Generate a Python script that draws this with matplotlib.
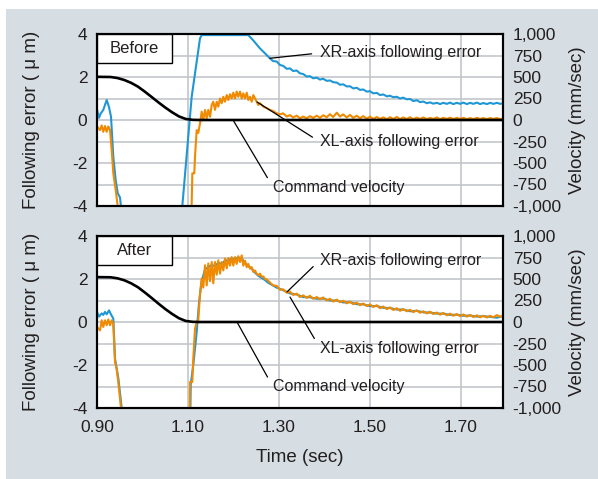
import matplotlib
matplotlib.use('Agg')
import matplotlib.pyplot as plt
from matplotlib.patches import Rectangle

plt.rcParams['font.family'] = ['Liberation Sans', 'DejaVu Sans']
plt.rcParams['axes.unicode_minus'] = False

BLUE = '#1f97d6'
ORANGE = '#f08a00'
PANEL = '#d6dee3'
GRID = '#c2c6cb'
TXT = '#231f20'

# shared sample times for the slow tails (sec)
t_tail = [1.280, 1.287, 1.295, 1.302, 1.309, 1.317, 1.324, 1.331, 1.339, 1.346,
          1.353, 1.361, 1.368, 1.375, 1.383, 1.390, 1.397, 1.405, 1.412, 1.419,
          1.427, 1.434, 1.441, 1.449, 1.456, 1.463, 1.471, 1.478, 1.485, 1.493,
          1.500, 1.507, 1.515, 1.522, 1.529, 1.537, 1.544, 1.551, 1.559, 1.566,
          1.573, 1.581, 1.588, 1.595, 1.603, 1.610, 1.617, 1.625, 1.632, 1.639,
          1.647, 1.654, 1.661, 1.669, 1.676, 1.683, 1.691, 1.698, 1.705, 1.713,
          1.720, 1.727, 1.735, 1.742, 1.749, 1.757, 1.764, 1.771, 1.779, 1.786,
          1.793]

# command velocity (mm/sec)
t_cmd = [0.900, 0.930, 0.945, 0.960, 0.975, 0.990, 1.005, 1.020, 1.035, 1.050,
         1.065, 1.080, 1.095, 1.110, 1.125, 1.800]
cmd_before = [502, 500, 488, 465, 432, 388, 330, 268, 205, 145, 90, 42, 12, 2, 0, 0]
cmd_after = [522, 520, 508, 485, 450, 404, 344, 280, 214, 151, 94, 44, 12, 2, 0, 0]

# ---- Before: XR-axis (blue) ----
xr_before_t = [0.9000, 0.9044, 0.9080, 0.9138, 0.9213, 0.9264, 0.9308, 0.9358, 0.9411,
               0.9455, 0.9505, 0.9527, 0.9540, 1.0794, 1.1081, 1.1264, 1.1301, 1.2325,
               1.2435, 1.2582, 1.2692] + t_tail
xr_before_v = [0.50, 0.10, 0.30, 0.47, 0.93, 0.60, 0.15, -1.70, -2.80,
               -3.40, -3.60, -4.00, -6.00, -6.00, 1.08, 3.80, 3.95, 3.95,
               3.70, 3.33, 3.10] + [
    2.87, 2.74, 2.72, 2.56, 2.52, 2.38, 2.40, 2.28, 2.30, 2.17,
    2.14, 2.02, 2.04, 1.94, 1.97, 1.88, 1.92, 1.82, 1.84, 1.76,
    1.74, 1.64, 1.66, 1.56, 1.57, 1.47, 1.50, 1.40, 1.42, 1.32,
    1.34, 1.24, 1.26, 1.16, 1.19, 1.10, 1.13, 1.06, 1.08, 1.00,
    1.04, 0.96, 0.98, 0.88, 0.92, 0.83, 0.86, 0.78, 0.82, 0.76,
    0.80, 0.74, 0.80, 0.75, 0.81, 0.74, 0.80, 0.75, 0.81, 0.74,
    0.80, 0.75, 0.81, 0.74, 0.79, 0.74, 0.80, 0.75, 0.80, 0.75,
    0.78]

# ---- Before: XL-axis (orange) ----
xl_before_t = [0.9000, 0.9066, 0.9103, 0.9138, 0.9176, 0.9213, 0.9248, 0.9286, 0.9323,
               0.9358, 0.9411, 0.9455, 0.9480, 1.1060, 1.1095, 1.1138, 1.1154, 1.1191,
               1.1226, 1.1264, 1.1301, 1.1336, 1.1374, 1.1411, 1.1446, 1.1484, 1.1521,
               1.1556, 1.1593, 1.1631, 1.1666, 1.1703, 1.1741, 1.1776, 1.1813, 1.1851,
               1.1886, 1.1923, 1.1960, 1.1996, 1.2033, 1.2070, 1.2105, 1.2143, 1.2180,
               1.2215, 1.2253, 1.2290, 1.2325, 1.2363, 1.2400, 1.2435, 1.2510, 1.2545,
               1.2582, 1.2655, 1.2730] + t_tail
xl_before_v = [-0.30, -0.47, -0.25, -0.55, -0.28, -0.55, -0.30, -0.47, -1.40,
               -2.47, -3.26, -4.00, -6.00, -6.00, -2.48, -2.48, -1.70, -0.47,
               -0.60, -0.16, 0.39, 0.00, 0.47, 0.08, 0.47, 0.15, 0.70,
               0.85, 0.47, 0.85, 0.62, 1.00, 0.78, 1.08, 0.85, 1.16,
               0.93, 1.20, 1.00, 1.27, 1.00, 1.32, 1.08, 1.32, 1.00,
               1.24, 1.00, 1.27, 0.93, 1.08, 0.85, 1.16, 0.85, 0.70,
               0.78, 0.62, 0.55] + [
    0.47, 0.42, 0.31, 0.26, 0.31, 0.16, 0.23, 0.12, 0.20, 0.08,
    0.16, 0.08, 0.18, 0.10, 0.20, 0.10, 0.22, 0.13, 0.27, 0.14,
    0.34, 0.16, 0.26, 0.12, 0.24, 0.10, 0.20, 0.08, 0.18, 0.06,
    0.16, 0.05, 0.14, 0.05, 0.12, 0.04, 0.13, 0.05, 0.14, 0.04,
    0.12, 0.05, 0.13, 0.04, 0.11, 0.05, 0.12, 0.04, 0.10, 0.05,
    0.12, 0.04, 0.10, 0.05, 0.11, 0.04, 0.10, 0.05, 0.10, 0.04,
    0.09, 0.04, 0.10, 0.05, 0.09, 0.04, 0.09, 0.05, 0.09, 0.04,
    0.07]

# ---- After: XR-axis (blue) ----
xr_after_t = [0.9000, 0.9044, 0.9103, 0.9138, 0.9176, 0.9213, 0.9264, 0.9308, 0.9358,
              0.9396, 0.9468, 0.9543, 0.9560, 1.1040, 1.1060, 1.1116, 1.1191, 1.1242,
              1.1301, 1.1374, 1.1446, 1.1521, 1.1593, 1.1666, 1.1741, 1.1813, 1.1886,
              1.1960, 1.2033, 1.2105, 1.2180, 1.2253, 1.2325, 1.2400, 1.2470, 1.2545,
              1.2620, 1.2692, 1.2765] + t_tail[::2]
xr_after_v = [0.47, 0.25, 0.40, 0.33, 0.47, 0.36, 0.54, 0.35, 0.16,
              -1.70, -2.60, -4.00, -6.00, -6.00, -2.90, -2.00, -0.47, 0.90,
              1.90, 2.45, 2.55, 2.65, 2.60, 2.75, 2.70, 2.85, 2.88,
              2.95, 2.92, 3.00, 2.95, 2.75, 2.60, 2.48, 2.30, 2.15,
              2.05, 1.95, 1.82] + [
    1.78, 1.60, 1.48, 1.33, 1.28, 1.16, 1.15, 1.08, 1.09, 1.00,
    1.00, 0.91, 0.92, 0.83, 0.82, 0.74, 0.74, 0.66, 0.65, 0.58,
    0.58, 0.50, 0.52, 0.45, 0.44, 0.39, 0.39, 0.33, 0.34, 0.29,
    0.30, 0.25, 0.27, 0.24, 0.20, 0.28]

# ---- After: XL-axis (orange) ----
xl_after_t = [0.9000, 0.9066, 0.9103, 0.9138, 0.9176, 0.9213, 0.9248, 0.9286, 0.9323,
              0.9358, 0.9396, 0.9433, 0.9468, 0.9527, 0.9545, 1.1030, 1.1044, 1.1095,
              1.1116, 1.1154, 1.1191, 1.1226, 1.1264, 1.1301, 1.1336, 1.1374, 1.1411,
              1.1446, 1.1484, 1.1521, 1.1556, 1.1593, 1.1631, 1.1666, 1.1703, 1.1741,
              1.1776, 1.1813, 1.1851, 1.1886, 1.1923, 1.1960, 1.1996, 1.2033, 1.2070,
              1.2105, 1.2143, 1.2180, 1.2215, 1.2253, 1.2290, 1.2325, 1.2363, 1.2400,
              1.2435, 1.2470, 1.2510, 1.2545, 1.2582, 1.2620, 1.2655, 1.2692, 1.2730] + t_tail
xl_after_v = [-0.23, -0.39, 0.08, -0.23, 0.08, -0.15, 0.12, -0.15, 0.08,
              -0.08, -1.86, -2.20, -2.80, -4.00, -6.00, -6.00, -2.79, -2.79,
              -1.70, -0.31, 0.00, 0.08, 1.32, 2.02, 1.60, 2.64, 1.70,
              2.72, 1.90, 2.79, 1.80, 2.79, 2.20, 2.87, 2.25, 2.79,
              2.40, 2.95, 2.50, 2.98, 2.62, 3.02, 2.62, 3.02, 2.70,
              3.06, 2.79, 3.10, 2.62, 2.85, 2.55, 2.70, 2.48, 2.55,
              2.33, 2.40, 2.25, 2.17, 2.25, 2.10, 2.12, 2.00, 1.98] + [
    1.84, 1.70, 1.68, 1.50, 1.52, 1.36, 1.42, 1.26, 1.32, 1.16,
    1.24, 1.12, 1.22, 1.08, 1.16, 1.05, 1.14, 1.00, 1.08, 0.95,
    1.04, 0.92, 0.99, 0.87, 0.95, 0.83, 0.90, 0.78, 0.86, 0.74,
    0.82, 0.70, 0.78, 0.64, 0.72, 0.60, 0.68, 0.56, 0.64, 0.52,
    0.60, 0.50, 0.57, 0.46, 0.54, 0.43, 0.50, 0.40, 0.48, 0.37,
    0.44, 0.34, 0.42, 0.31, 0.39, 0.29, 0.37, 0.27, 0.35, 0.25,
    0.33, 0.23, 0.31, 0.22, 0.29, 0.21, 0.29, 0.22, 0.32, 0.24,
    0.31]

x_ticks = [0.90, 1.10, 1.30, 1.50, 1.70]
x_labels = ['0.90', '1.10', '1.30', '1.50', '1.70']
err_ticks = [-4, -3, -2, -1, 0, 1, 2, 3, 4]
err_labels = ['-4', '', '-2', '', '0', '', '2', '', '4']
vel_ticks = [-1000, -750, -500, -250, 0, 250, 500, 750, 1000]
vel_labels = ['-1,000', '-750', '-500', '-250', '0', '250', '500', '750', '1,000']


def panel(ax, tag, xr_t, xr_v, xl_t, xl_v, cmd, notes, show_x):
	ax.set_facecolor('white')
	ax.set_xlim(0.90, 1.7923)
	ax.set_ylim(-4, 4)
	ax.set_xticks(x_ticks)
	ax.set_xticklabels(x_labels if show_x else [''] * len(x_ticks))
	ax.set_yticks(err_ticks)
	ax.set_yticklabels(err_labels)
	ax.grid(True, color=GRID, lw=1.2)
	ax.set_axisbelow(True)
	ax.tick_params(length=0, labelsize=12.5, colors=TXT)
	ax.tick_params(axis='y', pad=7)
	ax.tick_params(axis='x', pad=9)

	ax.plot(xr_t, xr_v, color=BLUE, lw=1.5, zorder=3)
	ax.plot(xl_t, xl_v, color=ORANGE, lw=1.5, zorder=4)

	ax2 = ax.twinx()
	ax2.set_ylim(-1000, 1000)
	ax2.set_yticks(vel_ticks)
	ax2.set_yticklabels(vel_labels)
	ax2.tick_params(length=0, labelsize=12.5, colors=TXT, pad=7)
	ax2.plot(t_cmd, cmd, color='black', lw=1.9)
	for a in (ax, ax2):
		for s in a.spines.values():
			s.set_linewidth(1.5)
			s.set_color('black')

	# label box in the corner
	ax2.add_patch(Rectangle((0, 0.831), 0.1847, 0.169, transform=ax.transAxes,
		facecolor='white', edgecolor='black', lw=1.0, zorder=5))
	ax2.text(0.0923, 0.9155, tag, transform=ax.transAxes, ha='center', va='center',
		fontsize=12, color=TXT, zorder=6)

	for text, xy, xyt in notes:
		ax.annotate(text, xy=xy, xytext=xyt, ha='left', va='center', fontsize=11.5,
			color=TXT, zorder=6,
			arrowprops=dict(arrowstyle='-', color='black', lw=0.9,
				shrinkA=4, shrinkB=0, relpos=(0, 0.5)))


fig = plt.figure(figsize=(5.98, 4.79), dpi=100)
fig.patch.set_facecolor('white')
fig.add_artist(Rectangle((6 / 598, 0), 1, 470 / 479, transform=fig.transFigure,
	facecolor=PANEL, edgecolor='none', zorder=-5))

ax_top = fig.add_axes([97 / 598, 1 - 206 / 479, 406 / 598, 172 / 479])
ax_bot = fig.add_axes([97 / 598, 1 - 408 / 479, 406 / 598, 172 / 479])

panel(ax_top, 'Before', xr_before_t, xr_before_v, xl_before_t, xl_before_v, cmd_before, [
	('XR-axis following error', (1.280, 2.87), (1.390, 3.12)),
	('XL-axis following error', (1.2516, 0.84), (1.390, -1.02)),
	('Command velocity', (1.199, 0.0), (1.2868, -3.12)),
], False)
panel(ax_bot, 'After', xr_after_t, xr_after_v, xl_after_t, xl_after_v, cmd_after, [
	('XR-axis following error', (1.3176, 1.40), (1.390, 2.88)),
	('XL-axis following error', (1.3242, 1.16), (1.390, -1.21)),
	('Command velocity', (1.2077, 0.0), (1.2868, -3.02)),
], True)

for yc in (120, 322):
	fig.text(32 / 598, 1 - yc / 479, 'Following error ( \u03bc m)', rotation=90,
		ha='center', va='center', fontsize=13.5, color=TXT)
	fig.text(578 / 598, 1 - yc / 479, 'Velocity (mm/sec)', rotation=90,
		ha='center', va='center', fontsize=13.5, color=TXT)
fig.text(300 / 598, 1 - 458 / 479, 'Time (sec)', ha='center', va='center',
	fontsize=13.5, color=TXT)

fig.savefig('out.png', dpi=100, facecolor=fig.get_facecolor())
